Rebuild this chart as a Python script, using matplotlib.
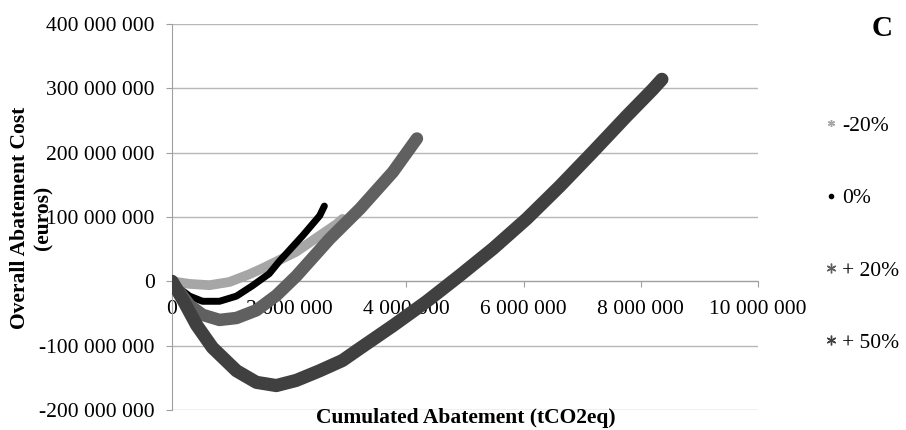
import matplotlib.pyplot as plt
from matplotlib.lines import Line2D
from matplotlib.ticker import FuncFormatter

plt.rcParams['font.family'] = ['Liberation Serif', 'DejaVu Serif']

# values, in millions (x: tCO2eq, y: euros)
x_m20 = [0, 0.08, 0.30, 0.64, 0.98, 1.32, 1.54, 2.12, 2.52, 2.81, 2.91]
y_m20 = [0, -1, -4, -6, -1, 11, 20, 46, 71, 89, 97]

x_0 = [0, 0.08, 0.30, 0.52, 0.81, 1.10, 1.37, 1.66, 1.83, 2.23, 2.52, 2.60]
y_0 = [0, -8, -23, -31, -31, -23, -7, 12, 31, 71, 102, 117]

x_p20 = [0, 0.08, 0.30, 0.52, 0.81, 1.10, 1.44, 1.78, 2.12, 2.69, 3.21, 3.77, 4.18]
y_p20 = [0, -11, -37, -52, -60, -57, -45, -22, 8, 66, 113, 170, 222]

x_p50 = [0, 0.20, 0.42, 0.69, 1.10, 1.44, 1.78, 2.12, 2.52, 2.91, 3.21, 3.77,
         4.35, 4.91, 5.48, 6.05, 6.62, 7.18, 7.76, 8.20, 8.36]
y_p50 = [0, -31, -68, -103, -139, -157, -162, -154, -139, -123, -104, -69,
         -31, 9, 51, 97, 148, 201, 257, 298, 314]

labels = ["-20%", "0%", "+ 20%", "+ 50%"]
colors = ["#a6a6a6", "#000000", "#606060", "#404040"]
widths = [7, 5, 9, 9.5]
markers = [(6, 2, 0), 'o', (6, 2, 0), (6, 2, 0)]
msizes = [5, 3, 7, 7]

def spaced(v, pos):
	return "{:,.0f}".format(v).replace(",", " ")

fig = plt.figure(figsize=(9.06, 4.30), dpi=100)
ax = fig.add_axes([172/906, 1-410/430, (758-172)/906, (410-24)/430])

series = [(x_m20, y_m20), (x_0, y_0), (x_p20, y_p20), (x_p50, y_p50)]
for i, (xs, ys) in enumerate(series):
	ax.plot([v*1e6 for v in xs], [v*1e6 for v in ys], color=colors[i], lw=widths[i],
	        solid_capstyle='round', solid_joinstyle='round', zorder=3+i)

ax.set_xlim(0, 10e6)
ax.set_ylim(-200e6, 400e6)
ax.set_xticks([i*2e6 for i in range(6)])
ax.set_yticks([i*100e6 for i in range(-2, 5)])
ax.xaxis.set_major_formatter(FuncFormatter(spaced))
ax.yaxis.set_major_formatter(FuncFormatter(spaced))
ax.grid(axis='y', color='#b7b7b7', lw=1)
ax.set_axisbelow(True)

for s in ['top', 'right']:
	ax.spines[s].set_visible(False)
ax.spines['bottom'].set_position(('data', 0))
ax.spines['bottom'].set_color('#a0a0a0')
ax.spines['left'].set_color('#a0a0a0')
ax.tick_params(axis='x', direction='out', length=4.5, color='#a0a0a0', pad=9, labelsize=15.5)
ax.tick_params(axis='y', direction='out', length=4.5, color='#a0a0a0', pad=8, labelsize=15.5)

fig.text(32/906, 1-218/430, "Overall Abatement Cost\n(euros)", rotation=90, ha='center', va='center',
         fontsize=15.5, fontweight='bold', linespacing=1.2)
fig.text(466/906, 1-418/430, "Cumulated Abatement (tCO2eq)", ha='center', va='center',
         fontsize=15.5, fontweight='bold')
fig.text(882/906, 1-28/430, "C", ha='center', va='center', fontsize=21, fontweight='bold')

handles = [Line2D([], [], ls='none', marker=markers[i], color=colors[i], markersize=msizes[i],
                  markeredgewidth=1) for i in range(4)]
fig.legend(handles, labels, loc='upper left', bbox_to_anchor=(814/906, 1-105/430), frameon=False,
           fontsize=15.5, labelspacing=2.43, handlelength=0.6, handletextpad=0.2, borderpad=0)

fig.savefig("out.png", dpi=100)
